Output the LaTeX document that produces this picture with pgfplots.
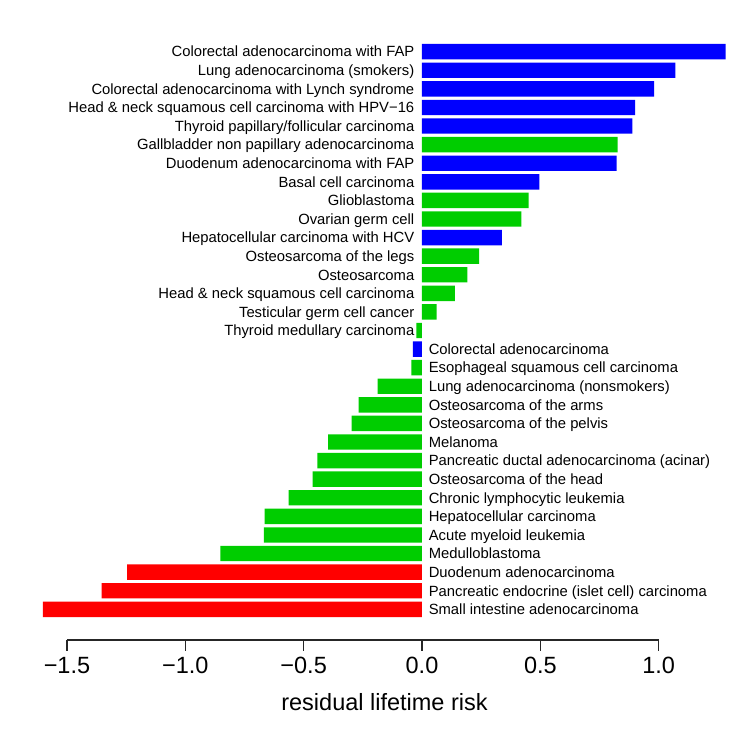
\documentclass[border=0pt]{standalone}
\usepackage{pgfplots}
\pgfplotsset{compat=1.18}
\usepackage{fontspec}
\setmainfont{Liberation Sans}
\definecolor{rblue}{RGB}{0,0,255}
\definecolor{rgreen}{RGB}{0,205,0}
\definecolor{rred}{RGB}{255,0,0}
\newcommand{\labfont}{\fontsize{14.8bp}{16bp}\selectfont}
\newcommand{\bigfont}{\fontsize{23.5bp}{26bp}\selectfont}
\begin{document}
\begin{tikzpicture}
\useasboundingbox (0,0) rectangle (747bp,747bp);
\begin{axis}[
  at={(0,0)}, anchor=south west,
  scale only axis, width=747bp, height=747bp,
  xmin=-1.7828, xmax=1.3731, ymin=-7.408, ymax=32.782,
  hide axis, xbar, bar width=15.4bp, bar shift=0pt,
  clip=false,
]
\addplot[fill=rblue, draw=none] coordinates {
(1.283,30) (1.070,29) (0.981,28) (0.900,27) (0.889,26) (0.822,24) (0.496,23) (0.337,20) (-0.038,14)};
\addplot[fill=rgreen, draw=none] coordinates {
(0.827,25) (0.451,22) (0.420,21) (0.241,19) (0.192,18) (0.139,17) (0.062,16) (-0.024,15)
(-0.045,13) (-0.187,12) (-0.268,11) (-0.297,10) (-0.397,9) (-0.442,8) (-0.462,7) (-0.563,6)
(-0.665,5) (-0.668,4) (-0.852,3)};
\addplot[fill=rred, draw=none] coordinates {
(-1.246,2) (-1.353,1) (-1.602,0)};
\tikzset{pl/.style={anchor=base east, inner sep=0pt, yshift=-5.3bp, font=\labfont},
         nl/.style={anchor=base west, inner sep=0pt, yshift=-5.3bp, font=\labfont}}
\node[pl] at (axis cs:-0.0317,30) {Colorectal adenocarcinoma with FAP};
\node[pl] at (axis cs:-0.0317,29) {Lung adenocarcinoma (smokers)};
\node[pl] at (axis cs:-0.0317,28) {Colorectal adenocarcinoma with Lynch syndrome};
\node[pl] at (axis cs:-0.0317,27) {Head \& neck squamous cell carcinoma with HPV−16};
\node[pl] at (axis cs:-0.0317,26) {Thyroid papillary/follicular carcinoma};
\node[pl] at (axis cs:-0.0317,25) {Gallbladder non papillary adenocarcinoma};
\node[pl] at (axis cs:-0.0317,24) {Duodenum adenocarcinoma with FAP};
\node[pl] at (axis cs:-0.0317,23) {Basal cell carcinoma};
\node[pl] at (axis cs:-0.0317,22) {Glioblastoma};
\node[pl] at (axis cs:-0.0317,21) {Ovarian germ cell};
\node[pl] at (axis cs:-0.0317,20) {Hepatocellular carcinoma with HCV};
\node[pl] at (axis cs:-0.0317,19) {Osteosarcoma of the legs};
\node[pl] at (axis cs:-0.0317,18) {Osteosarcoma};
\node[pl] at (axis cs:-0.0317,17) {Head \& neck squamous cell carcinoma};
\node[pl] at (axis cs:-0.0317,16) {Testicular germ cell cancer};
\node[pl] at (axis cs:-0.0317,15) {Thyroid medullary carcinoma};
\node[nl] at (axis cs:0.0279,14) {Colorectal adenocarcinoma};
\node[nl] at (axis cs:0.0279,13) {Esophageal squamous cell carcinoma};
\node[nl] at (axis cs:0.0279,12) {Lung adenocarcinoma (nonsmokers)};
\node[nl] at (axis cs:0.0279,11) {Osteosarcoma of the arms};
\node[nl] at (axis cs:0.0279,10) {Osteosarcoma of the pelvis};
\node[nl] at (axis cs:0.0279,9) {Melanoma};
\node[nl] at (axis cs:0.0279,8) {Pancreatic ductal adenocarcinoma (acinar)};
\node[nl] at (axis cs:0.0279,7) {Osteosarcoma of the head};
\node[nl] at (axis cs:0.0279,6) {Chronic lymphocytic leukemia};
\node[nl] at (axis cs:0.0279,5) {Hepatocellular carcinoma};
\node[nl] at (axis cs:0.0279,4) {Acute myeloid leukemia};
\node[nl] at (axis cs:0.0279,3) {Medulloblastoma};
\node[nl] at (axis cs:0.0279,2) {Duodenum adenocarcinoma};
\node[nl] at (axis cs:0.0279,1) {Pancreatic endocrine (islet cell) carcinoma};
\node[nl] at (axis cs:0.0279,0) {Small intestine adenocarcinoma};
\end{axis}
\begin{axis}[
  at={(66.95bp,107bp)}, anchor=south west,
  scale only axis, width=591.75bp, height=20bp,
  xmin=-1.5, xmax=1, ymin=0, ymax=1,
  axis x line=bottom, axis y line=none,
  axis line style={-, line width=1.1bp, black!85},
  xtick={-1.5,-1,-0.5,0,0.5,1},
  xticklabels={−1.5,−1.0,−0.5,0.0,0.5,1.0},
  xtick align=outside, major tick length=11bp,
  xtick style={black!85, line width=1.1bp},
  xticklabel style={font=\bigfont, anchor=base, inner sep=0pt, yshift=-22bp},
  typeset ticklabels with strut=false,
]
\addplot[draw=none] coordinates {(0,0.5)};
\end{axis}
\node[anchor=base, inner sep=0pt, font=\bigfont] at (384.5bp,37bp) {residual lifetime risk};
\end{tikzpicture}
\end{document}
